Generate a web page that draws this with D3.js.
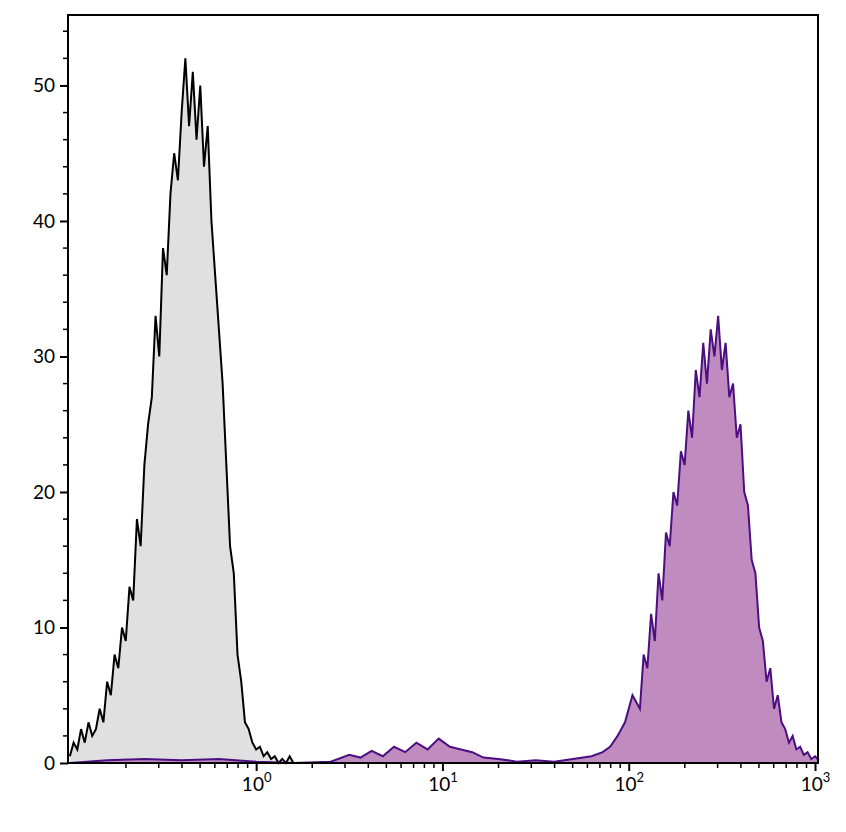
<!DOCTYPE html>
<html><head><meta charset="utf-8">
<script src="https://cdn.jsdelivr.net/npm/d3@7"></script>
<style>body{margin:0;background:#fff}text{font-family:Lato,"Open Sans",sans-serif}</style>
</head><body><div id="container"></div>
<script>
/* DATA: log10 of intensity and counts */
const greyX = [-1.00,-0.98,-0.96,-0.94,-0.92,-0.90,-0.88,-0.86,-0.84,-0.82,-0.80,-0.78,-0.76,-0.74,-0.72,-0.70,-0.68,-0.66,-0.64,-0.62,-0.60,-0.58,-0.56,-0.54,-0.52,-0.50,-0.48,-0.46,-0.44,-0.42,-0.40,-0.38,-0.36,-0.34,-0.32,-0.30,-0.28,-0.26,-0.24,-0.22,-0.20,-0.18,-0.16,-0.14,-0.12,-0.10,-0.08,-0.06,-0.04,-0.02,0.00,0.02,0.04,0.06,0.08,0.10,0.12,0.14,0.16,0.18,0.20,0.30];
const greyY = [0.5,1.5,1,2.5,1.5,3,2,2.5,4,3,6,5,8,7,10,9,13,12,18,16,22,25,27,33,30,38,36,42,45,43,48,52,47,51,46,50,44,47,40,36,32,28,22,16,14,8,6,3,2.5,1.5,1,1.2,0.5,0.8,0.3,0.5,0,0.3,0,0.5,0,0];
const purpleX = [-1.0,-0.8,-0.6,-0.4,-0.2,0,0.2,0.4,0.5,0.56,0.62,0.68,0.74,0.80,0.86,0.92,0.98,1.04,1.10,1.16,1.22,1.30,1.40,1.50,1.60,1.70,1.80,1.86,1.90,1.94,1.98,2.02,2.06,2.08,2.10,2.12,2.14,2.16,2.18,2.20,2.22,2.24,2.26,2.28,2.30,2.32,2.34,2.36,2.38,2.40,2.42,2.44,2.46,2.48,2.50,2.52,2.54,2.56,2.58,2.60,2.62,2.64,2.66,2.68,2.70,2.72,2.74,2.76,2.78,2.80,2.82,2.84,2.86,2.88,2.90,2.92,2.94,2.96,2.98,3.00,3.02];
const purpleY = [0,0.2,0.3,0.2,0.3,0.1,0,0.1,0.6,0.4,0.9,0.5,1.2,0.8,1.5,1,1.8,1.2,1,0.8,0.4,0.3,0.1,0.2,0.1,0.3,0.5,0.8,1.2,2,3,5,4,8,7,11,9,14,12,17,16,20,19,23,22,26,24,29,27,31,28,32,30,33,29,31,27,28,24,25,20,19,15,14,10,9,6,7,4,5,3,2.5,1.5,2,1,1.2,0.6,0.8,0.3,0.5,0.2];
const yTicks = [0,10,20,30,40,50];
const xTicks = [0,1,2,3];

/* LAYOUT */
const width = 846, height = 832;
const m = {left:68, right:28, top:15, bottom:69};

const svg = d3.select("#container").append("svg").attr("width",width).attr("height",height);

const x = d3.scaleLinear().domain([-1.01,3.016]).range([m.left,width-m.right]);
const y = d3.scaleLinear().domain([0,55.2]).range([height-m.bottom,m.top]);

const area = (xs) => d3.area().x((d,i)=>x(xs[i])).y0(y(0)).y1(d=>y(d));
const line = (xs) => d3.line().x((d,i)=>x(xs[i])).y(d=>y(d));

svg.append("path").datum(greyY).attr("d",area(greyX)).attr("fill","#e0e0e0");
svg.append("path").datum(purpleY).attr("d",area(purpleX)).attr("fill","#c08cc0");
svg.append("path").datum(greyY).attr("d",line(greyX)).attr("fill","none").attr("stroke","#000").attr("stroke-width",2);
svg.append("path").datum(purpleY).attr("d",line(purpleX)).attr("fill","none").attr("stroke","#4b0f82").attr("stroke-width",2);

/* frame */
svg.append("rect").attr("x",m.left).attr("y",m.top).attr("width",width-m.left-m.right).attr("height",height-m.top-m.bottom)
  .attr("fill","none").attr("stroke","#000").attr("stroke-width",2);

/* y axis */
const yAxis = d3.axisLeft(y).tickValues(yTicks).tickSize(8).tickPadding(5);
const gy = svg.append("g").attr("transform",`translate(${m.left},0)`).call(yAxis);
gy.select(".domain").remove();
gy.selectAll("text").attr("font-size",19);
gy.selectAll("line").attr("stroke-width",2);
const yMinor = d3.range(0,56,2).filter(v=>v%10!==0);
svg.append("g").selectAll("line").data(yMinor).join("line")
  .attr("x1",m.left-5).attr("x2",m.left).attr("y1",d=>y(d)).attr("y2",d=>y(d)).attr("stroke","#000").attr("stroke-width",1.5);

/* x axis */
const xAxis = d3.axisBottom(x).tickValues(xTicks).tickSize(8).tickFormat("");
const gx = svg.append("g").attr("transform",`translate(0,${height-m.bottom})`).call(xAxis);
gx.select(".domain").remove();
gx.selectAll("line").attr("stroke-width",2);
const lbl = gx.selectAll(".tick").append("text").attr("fill","#000").attr("y",28).attr("text-anchor","middle").attr("font-size",19);
lbl.append("tspan").text("10");
lbl.append("tspan").attr("dy",-9).attr("font-size",13).text(d=>d);
const xMinor = [];
[-1,0,1,2].forEach(e=>d3.range(2,10).forEach(k=>{const v=e+Math.log10(k); if(v>=-1.01&&v<=3.016) xMinor.push(v);}));
svg.append("g").selectAll("line").data(xMinor).join("line")
  .attr("x1",d=>x(d)).attr("x2",d=>x(d)).attr("y1",height-m.bottom).attr("y2",height-m.bottom+5).attr("stroke","#000").attr("stroke-width",1.5);
</script></body></html>
